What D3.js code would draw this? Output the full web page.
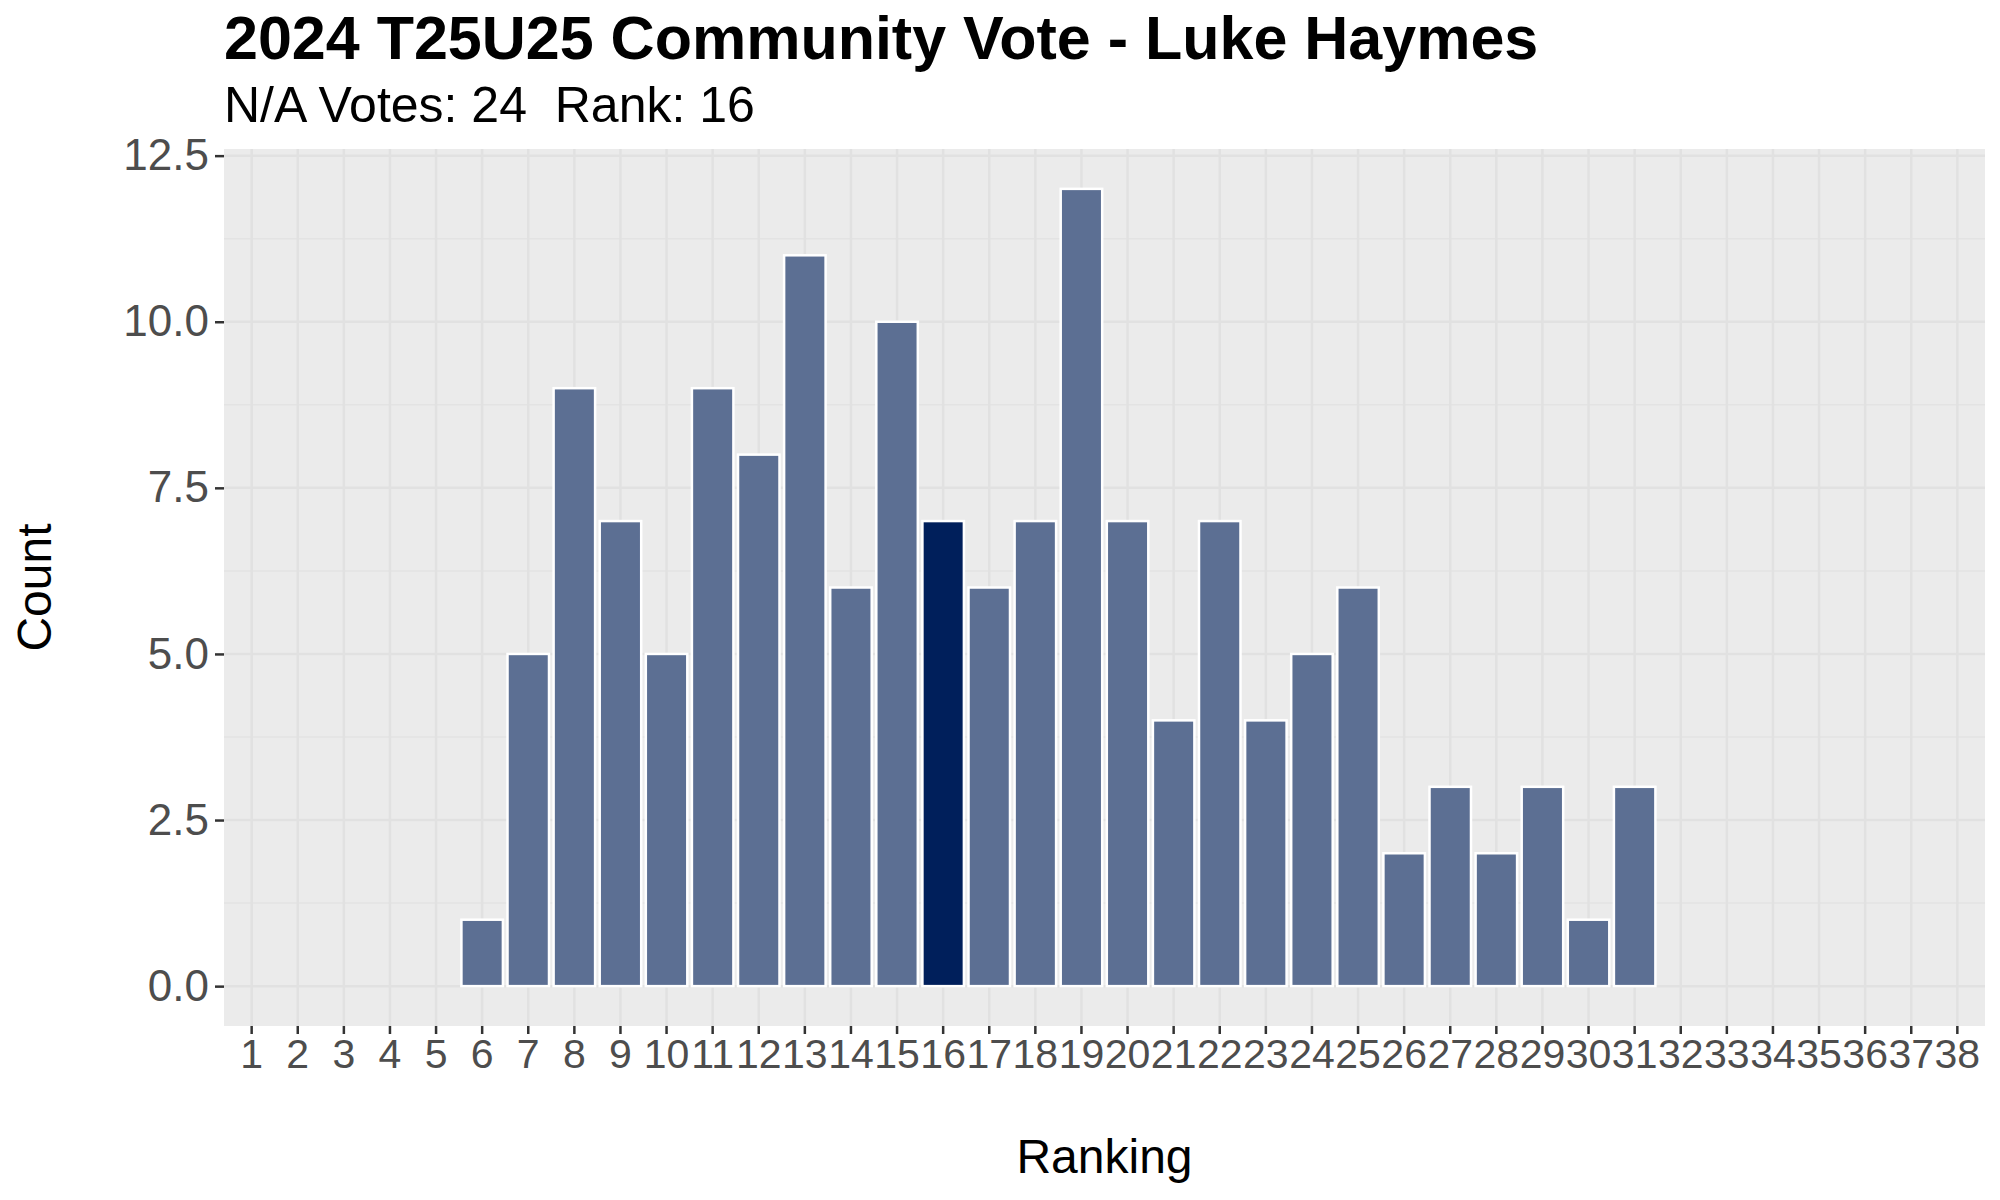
<!DOCTYPE html>
<html>
<head>
<meta charset="utf-8">
<script src="https://cdn.jsdelivr.net/npm/d3@7"></script>
<style>
  html, body { margin: 0; padding: 0; background: #ffffff; }
  svg text { font-family: "Liberation Sans", Arial, Helvetica, sans-serif; }
</style>
</head>
<body>
<svg id="chart" width="2000" height="1200"></svg>
<script>
const rankings = d3.range(1, 39);
const counts = [0,0,0,0,0,1,5,9,7,5,9,8,11,6,10,7,6,7,12,7,4,7,4,5,6,2,3,2,3,1,3,0,0,0,0,0,0,0];
const highlightRank = 16;
const yTicks = [0, 2.5, 5, 7.5, 10, 12.5];
const yMinorTicks = [1.25, 3.75, 6.25, 8.75, 11.25];
const titleText = "2024 T25U25 Community Vote - Luke Haymes";
const subtitleText = "N/A Votes: 24  Rank: 16";
const xTitle = "Ranking";
const yTitle = "Count";

const data = rankings.map((r, i) => ({ rank: r, count: counts[i] }));

const panel = { left: 224, right: 1985, top: 149, bottom: 1026 };
const svg = d3.select("#chart");

// ggplot expands discrete axes by 0.6 units each side
const step = (panel.right - panel.left) / (rankings.length - 1 + 1.2);
const x = d3.scaleBand()
  .domain(rankings)
  .range([panel.left + 0.6 * step - step / 2, panel.right - 0.6 * step + step / 2])
  .paddingInner(0.1)
  .paddingOuter(0.05);

const y = d3.scaleLinear().domain([-0.6, 12.6]).range([panel.bottom, panel.top]);

// panel background
svg.append("rect")
  .attr("x", panel.left).attr("y", panel.top)
  .attr("width", panel.right - panel.left).attr("height", panel.bottom - panel.top)
  .attr("fill", "#EBEBEB");

const grid = svg.append("g");
grid.selectAll("line.ymin").data(yMinorTicks).join("line")
  .attr("x1", panel.left).attr("x2", panel.right)
  .attr("y1", d => y(d)).attr("y2", d => y(d))
  .attr("stroke", "#E3E3E3").attr("stroke-width", 1.5);
grid.selectAll("line.ymaj").data(yTicks).join("line")
  .attr("x1", panel.left).attr("x2", panel.right)
  .attr("y1", d => y(d)).attr("y2", d => y(d))
  .attr("stroke", "#E1E1E1").attr("stroke-width", 2.5);
grid.selectAll("line.xmaj").data(rankings).join("line")
  .attr("x1", d => x(d) + x.bandwidth() / 2).attr("x2", d => x(d) + x.bandwidth() / 2)
  .attr("y1", panel.top).attr("y2", panel.bottom)
  .attr("stroke", "#E1E1E1").attr("stroke-width", 2.5);

// bars
svg.append("g").selectAll("rect").data(data.filter(d => d.count > 0)).join("rect")
  .attr("x", d => x(d.rank))
  .attr("width", x.bandwidth())
  .attr("y", d => y(d.count))
  .attr("height", d => y(0) - y(d.count))
  .attr("fill", d => d.rank === highlightRank ? "#001F5B" : "#5C6F93")
  .attr("stroke", "#FFFFFF")
  .attr("stroke-width", 2.5);

// y axis
const yAxis = d3.axisLeft(y).tickValues(yTicks).tickFormat(d3.format(".1f")).tickSize(9).tickPadding(6);
const gy = svg.append("g").attr("transform", `translate(${panel.left},0)`).call(yAxis);
gy.select(".domain").remove();
gy.selectAll(".tick line").attr("stroke", "#333333").attr("stroke-width", 2.5);
gy.selectAll(".tick text").attr("fill", "#4D4D4D").attr("font-size", 44)
  .attr("font-family", "Liberation Sans, Arial, sans-serif");

// x axis
const xAxis = d3.axisBottom(x).tickSize(8).tickPadding(5);
const gx = svg.append("g").attr("transform", `translate(0,${panel.bottom})`).call(xAxis);
gx.select(".domain").remove();
gx.selectAll(".tick line").attr("stroke", "#333333").attr("stroke-width", 2.5);
gx.selectAll(".tick text").attr("fill", "#4D4D4D").attr("font-size", 41)
  .attr("font-family", "Liberation Sans, Arial, sans-serif");

// titles
svg.append("text").attr("x", panel.left).attr("y", 59)
  .attr("font-size", 61).attr("font-weight", "bold").attr("fill", "#000")
  .text(titleText);
svg.append("text").attr("x", panel.left).attr("y", 122)
  .attr("font-size", 50).attr("fill", "#000")
  .attr("xml:space", "preserve").style("white-space", "pre")
  .text(subtitleText);

svg.append("text").attr("x", (panel.left + panel.right) / 2).attr("y", 1173)
  .attr("text-anchor", "middle").attr("font-size", 48).attr("fill", "#000")
  .text(xTitle);
svg.append("text")
  .attr("transform", `translate(51,${(panel.top + panel.bottom) / 2}) rotate(-90)`)
  .attr("text-anchor", "middle").attr("font-size", 48).attr("fill", "#000")
  .text(yTitle);
</script>
</body>
</html>
